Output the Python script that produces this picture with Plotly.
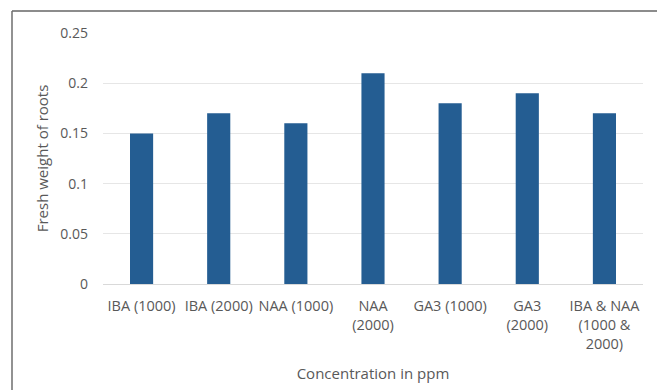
import plotly.graph_objects as go

categories = [
    "IBA (1000)",
    "IBA (2000)",
    "NAA (1000)",
    "NAA<br>(2000)",
    "GA3 (1000)",
    "GA3<br>(2000)",
    "IBA & NAA<br>(1000 &<br>2000)",
]
fresh_weight = [0.15, 0.17, 0.16, 0.21, 0.18, 0.19, 0.17]
y_ticks = [0, 0.05, 0.1, 0.15, 0.2, 0.25]
y_tick_text = ["0", "0.05", "0.1", "0.15", "0.2", "0.25"]

W, H = 657, 390
L, R, T, B = 103, 14, 33, 106
pw, ph = W - L - R, H - T - B

fig = go.Figure(
    go.Bar(
        x=categories,
        y=fresh_weight,
        marker=dict(color="#245d92", line=dict(width=0)),
        width=0.30,
    )
)

text_grey = "#595959"
fig.update_layout(
    width=W,
    height=H,
    margin=dict(l=L, r=R, t=T, b=B),
    paper_bgcolor="white",
    plot_bgcolor="white",
    font=dict(family="Open Sans, sans-serif", size=14, color=text_grey),
    showlegend=False,
    xaxis=dict(
        automargin=False,
        showgrid=False,
        showline=True,
        linecolor="#d9d9d9",
        linewidth=1,
        ticks="outside",
        ticklen=9,
        tickcolor="rgba(0,0,0,0)",
        tickangle=0,
        tickfont=dict(size=14.5, color=text_grey),
        title=dict(text="Concentration in ppm", font=dict(size=15, color=text_grey), standoff=16),
    ),
    yaxis=dict(
        automargin=False,
        range=[0, 0.25],
        tickvals=y_ticks,
        ticktext=y_tick_text,
        showgrid=True,
        gridcolor="#e6e6e6",
        gridwidth=1,
        zeroline=False,
        showline=False,
        ticks="",
        ticklabelstandoff=14,
        tickfont=dict(size=14, color=text_grey),
        title=dict(text="Fresh weight of roots", font=dict(size=15, color=text_grey), standoff=8),
    ),
    shapes=[
        dict(
            type="line", xref="paper", yref="paper",
            x0=(12 - L) / pw, x1=(W + 5 - L) / pw,
            y0=(H - B - 11) / ph, y1=(H - B - 11) / ph,
            line=dict(color="#8c8c8c", width=2),
        ),
        dict(
            type="line", xref="paper", yref="paper",
            x0=(12 - L) / pw, x1=(12 - L) / pw,
            y0=(H - B - 11) / ph, y1=(-B - 5) / ph,
            line=dict(color="#6e6e6e", width=1.5),
        ),
    ],
)

fig.write_html("out.html")
